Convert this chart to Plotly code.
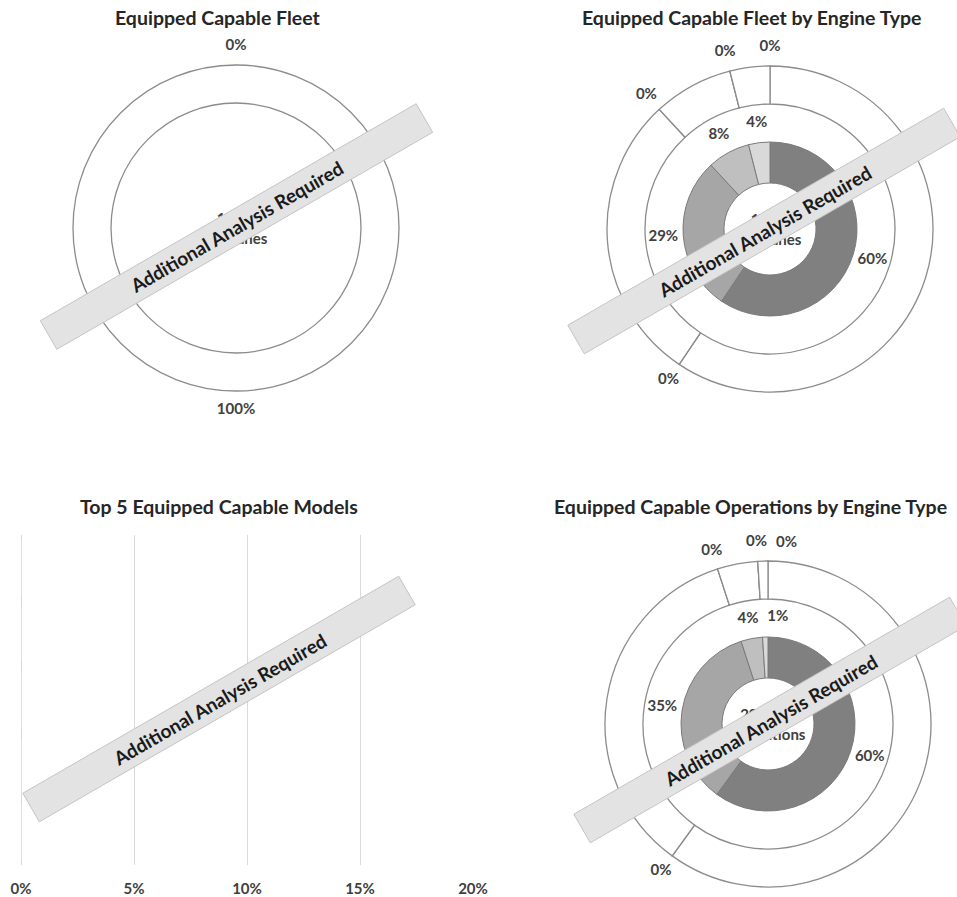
import math
import plotly.graph_objects as go

W, H = 957, 897

# ---------------- data ----------------
fleet_labels = ["Equipped", "Not Equipped"]
fleet_values = [0, 100]
fleet_center_text = "1,170<br>Airplanes"

engine_types = ["Jet", "Turboprop", "Piston", "Other"]
fleet_engine_share = [60, 29, 8, 4]
fleet_engine_equipped = [0, 0, 0, 0]
fleet_engine_center_text = "1,170<br>Airplanes"

ops_engine_share = [60, 35, 4, 1]
ops_engine_equipped = [0, 0, 0, 0]
ops_center_text = "295,000<br>Operations"

top5_models = ["Model 1", "Model 2", "Model 3", "Model 4", "Model 5"]
top5_share = [0, 0, 0, 0, 0]
x_ticks = [0, 0.05, 0.10, 0.15, 0.20]
x_tick_labels = ["0%", "5%", "10%", "15%", "20%"]

titles = ["Equipped Capable Fleet", "Equipped Capable Fleet by Engine Type",
          "Top 5 Equipped Capable Models", "Equipped Capable Operations by Engine Type"]
banner_text = "Additional Analysis Required"

# ---------------- style ----------------
FONT = "Lato"
RING_LINE = "#8c8c8c"
GRAYS = ["#808080", "#a6a6a6", "#bfbfbf", "#d9d9d9"]
LABEL_COLOR = "#404040"
TITLE_COLOR = "#262626"
LBL = dict(family=FONT, size=15, color=LABEL_COLOR, weight="bold")
R_OUT, R_MID, R_IN, R_HOLE = 163, 125, 87, 46
R_LBL_OUT, R_LBL_IN = 182, 107


def px_dom(cx, cy, r):
    return dict(x=[(cx - r) / W, (cx + r) / W], y=[1 - (cy + r) / H, 1 - (cy - r) / H])


def mid_angles(vals):
    tot = float(sum(vals))
    out, acc = [], 0.0
    for v in vals:
        out.append((acc + v / 2.0) / tot * 360.0)
        acc += v
    return out


def spread(angles, r, min_px=30):
    """push overlapping labels apart clockwise (label-collision pass)"""
    n = len(angles)
    if n < 2:
        return list(angles)
    sep = math.degrees(min_px / r)
    order = sorted(range(n), key=lambda i: angles[i])
    a = [angles[i] for i in order]
    gaps = [((a[(k + 1) % n] - a[k]) % 360) or 360 for k in range(n)]
    start = (gaps.index(max(gaps)) + 1) % n
    seq = [order[(start + k) % n] for k in range(n)]
    res = list(angles)
    prev = None
    for i in seq:
        ang = angles[i]
        if prev is not None:
            while ang < prev:
                ang += 360
            if ang - prev < sep:
                ang = prev + sep
        res[i] = ang
        prev = ang
    return res


fig = go.Figure()


def add_labels(cx, cy, r, angles, texts):
    fig.add_trace(go.Scatter(
        x=[cx + r * math.sin(math.radians(a)) for a in angles],
        y=[cy - r * math.cos(math.radians(a)) for a in angles],
        text=texts, mode="text", textfont=LBL, cliponaxis=False,
        xaxis="x2", yaxis="y2", showlegend=False, hoverinfo="skip"))


def add_outer(cx, cy, vals, texts, center_text):
    fig.add_trace(go.Pie(
        values=vals, textinfo="none", sort=False, direction="clockwise", rotation=0,
        hole=R_MID / R_OUT, domain=px_dom(cx, cy, R_OUT),
        marker=dict(colors=["white"] * len(vals), line=dict(color=RING_LINE, width=1.3)),
        title=dict(text=center_text, position="middle center", font=LBL),
        showlegend=False, hoverinfo="skip"))
    keep = [i for i, t in enumerate(texts) if t]
    ang = mid_angles(vals)
    ang = spread([ang[i] for i in keep], R_LBL_OUT)
    add_labels(cx, cy, R_LBL_OUT, ang, [texts[i] for i in keep])


def add_inner(cx, cy, share, center_text):
    fig.add_trace(go.Pie(
        values=share, labels=engine_types, textinfo="none",
        sort=False, direction="clockwise", rotation=0, hole=R_HOLE / R_IN,
        domain=px_dom(cx, cy, R_IN),
        marker=dict(colors=GRAYS, line=dict(color="#7a7a7a", width=1)),
        title=dict(text=center_text, position="middle center", font=LBL),
        showlegend=False, hoverinfo="skip"))
    ang = spread(mid_angles(share), R_LBL_IN)
    add_labels(cx, cy, R_LBL_IN, ang, [f"{s}%" for s in share])


def interleave(share, equipped):
    vals, texts = [], []
    for s, e in zip(share, equipped):
        vals += [e, s - e]
        texts += [f"{e}%", ""]
    return vals, texts


# bottom-left bar chart
fig.add_trace(go.Bar(x=top5_share, y=top5_models, orientation="h",
                     marker=dict(color="#808080"), showlegend=False, hoverinfo="skip"))

# top-left
add_outer(236, 228, fleet_values, [f"{v}%" for v in fleet_values], fleet_center_text)
# top-right
v, t = interleave(fleet_engine_share, fleet_engine_equipped)
add_outer(770, 229, v, t, "")
add_inner(770, 229, fleet_engine_share, fleet_engine_center_text)
# bottom-right
v, t = interleave(ops_engine_share, ops_engine_equipped)
add_outer(768, 724, v, t, "")
add_inner(768, 724, ops_engine_share, ops_center_text)

fig.update_layout(
    width=W, height=H, margin=dict(l=0, r=0, t=0, b=0, autoexpand=False),
    paper_bgcolor="white", plot_bgcolor="rgba(0,0,0,0)",
    xaxis=dict(domain=[21 / W, 473 / W], range=[0, 0.2], tickvals=x_ticks, ticktext=x_tick_labels,
               showgrid=True, gridcolor="#d9d9d9", gridwidth=1,
               zeroline=True, zerolinecolor="#d9d9d9", zerolinewidth=1, showline=False,
               ticks="outside", ticklen=10, tickcolor="rgba(0,0,0,0)",
               tickfont=LBL, fixedrange=True, automargin=False),
    yaxis=dict(domain=[1 - 865 / H, 1 - 535 / H], showticklabels=False, showgrid=False,
               zeroline=False, showline=False, fixedrange=True, automargin=False),
    xaxis2=dict(domain=[0, 1], range=[0, W], anchor="y2", visible=False, showgrid=False,
                zeroline=False, fixedrange=True),
    yaxis2=dict(domain=[0, 1], range=[H, 0], anchor="x2", visible=False, showgrid=False,
                zeroline=False, fixedrange=True),
)

# titles
for text, (x, y) in zip(titles, [(218, 18), (751, 18), (219, 507), (750, 507)]):
    fig.add_annotation(text=text, x=x / W, y=1 - y / H, xref="paper", yref="paper",
                       showarrow=False, xanchor="center", yanchor="middle",
                       font=dict(family=FONT, size=19.5, color=TITLE_COLOR, weight="bold"))

# banners
ang = math.radians(30)
ux, uy = math.cos(ang), -math.sin(ang)
nx, ny = math.sin(ang), math.cos(ang)
HL, HT = 217, 16.5
for cx, cy in [(236.5, 226.5), (764, 231), (219, 699), (770, 720)]:
    pts = [(cx - HL * ux - HT * nx, cy - HL * uy - HT * ny),
           (cx + HL * ux - HT * nx, cy + HL * uy - HT * ny),
           (cx + HL * ux + HT * nx, cy + HL * uy + HT * ny),
           (cx - HL * ux + HT * nx, cy - HL * uy + HT * ny)]
    path = "M " + " L ".join(f"{px / W:.5f},{1 - py / H:.5f}" for px, py in pts) + " Z"
    fig.add_shape(type="path", path=path, xref="paper", yref="paper", layer="above",
                  fillcolor="#e3e3e3", line=dict(color="#c4c4c4", width=1))
    fig.add_annotation(text=banner_text, x=cx / W, y=1 - cy / H, xref="paper", yref="paper",
                       showarrow=False, textangle=-30, xanchor="center", yanchor="middle",
                       font=dict(family=FONT, size=19, color="#1a1a1a", weight="bold"))

fig.write_html("out.html", config={"responsive": False, "displayModeBar": False},
               post_script="document.body.style.margin='0';document.body.style.overflow='hidden';")
